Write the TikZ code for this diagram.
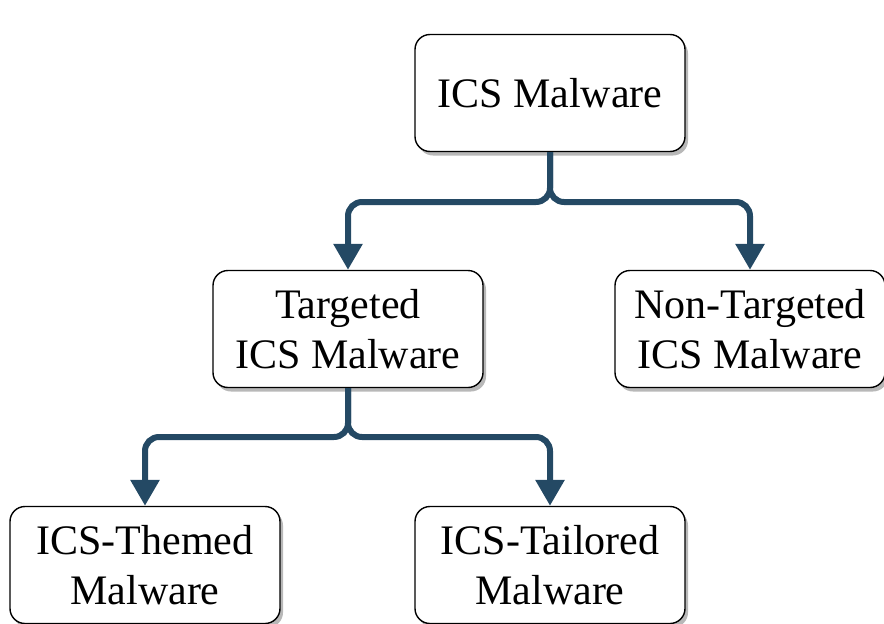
\documentclass[tikz,border=0pt]{standalone}
\usepackage{fontspec}
\setmainfont{Liberation Serif}
\usetikzlibrary{arrows.meta,shadows}
\definecolor{conn}{RGB}{36,73,100}
\begin{document}
\begin{tikzpicture}[x=1pt,y=-1pt,
  box/.style={draw=black, line width=1.4pt, fill=white, rounded corners=15pt,
    minimum width=270pt, minimum height=117pt, align=center, inner sep=0pt,
    font=\fontsize{42}{50}\selectfont,
    drop shadow={shadow xshift=3pt, shadow yshift=-4pt, fill=black!35, opacity=0.8}},
  link/.style={draw=conn, line width=6pt, rounded corners=14pt,
    -{Triangle[width=28pt,length=26pt]}}]
\useasboundingbox (0,0) rectangle (884,624);
\node[box] (root) at (550,93) {ICS Malware};
\node[box] (tgt) at (348,329) {Targeted\\ICS Malware};
\node[box] (non) at (750,329) {Non-Targeted\\ICS Malware};
\node[box] (them) at (145,565) {ICS-Themed\\Malware};
\node[box] (tail) at (550,565) {ICS-Tailored\\Malware};
\coordinate (s1) at (550,202);
\coordinate (s2) at (348,437);
\draw[link] (root.south) -- (s1) -| (tgt.north);
\draw[link] (root.south) -- (s1) -| (non.north);
\draw[link] (tgt.south) -- (s2) -| (them.north);
\draw[link] (tgt.south) -- (s2) -| (tail.north);
\end{tikzpicture}
\end{document}
